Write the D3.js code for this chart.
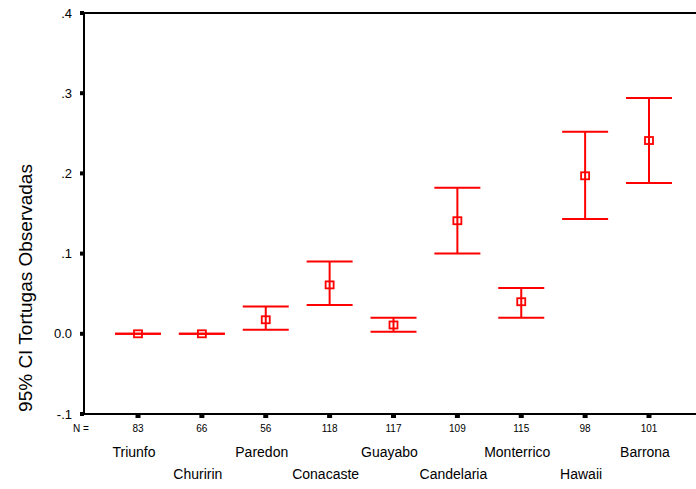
<!DOCTYPE html>
<html>
<head>
<meta charset="utf-8">
<script src="https://cdn.jsdelivr.net/npm/d3@7"></script>
<style>
  html, body { margin: 0; padding: 0; background: #fff; }
  svg { display: block; font-family: "Liberation Sans", Arial, sans-serif; }
</style>
</head>
<body>
<svg id="chart" width="696" height="489"></svg>
<script>
// Sites and sample sizes
const sites = ["Triunfo", "Churirin", "Paredon", "Conacaste", "Guayabo", "Candelaria", "Monterrico", "Hawaii", "Barrona"];
const nValues = [83, 66, 56, 118, 117, 109, 115, 98, 101];
// Mean and 95% confidence limits of observed turtles
const means = [0.000, 0.000, 0.0175, 0.061, 0.011, 0.141, 0.040, 0.197, 0.241];
const lower = [0.000, 0.000, 0.005, 0.036, 0.0025, 0.100, 0.020, 0.143, 0.188];
const upper = [0.000, 0.000, 0.034, 0.090, 0.020, 0.182, 0.057, 0.252, 0.294];
const yTicks = [-0.1, 0.0, 0.1, 0.2, 0.3, 0.4];
const yTickLabels = ["-.1", "0.0", ".1", ".2", ".3", ".4"];

const svg = d3.select("#chart");
const plotLeft = 84, plotTop = 13, plotBottom = 414, plotRight = 703;

const x = d3.scalePoint().domain(sites).range([138, 649]);
const y = d3.scaleLinear().domain([-0.1, 0.4]).range([plotBottom, plotTop]);

const red = "#ff0000";

// Frame: left axis, top and bottom lines
svg.append("line").attr("x1", plotLeft).attr("x2", plotLeft).attr("y1", plotTop).attr("y2", plotBottom)
  .attr("stroke", "#000").attr("stroke-width", 2);
svg.append("line").attr("x1", plotLeft - 1).attr("x2", plotRight).attr("y1", plotBottom).attr("y2", plotBottom)
  .attr("stroke", "#000").attr("stroke-width", 2);
svg.append("line").attr("x1", plotLeft - 1).attr("x2", plotRight).attr("y1", plotTop).attr("y2", plotTop)
  .attr("stroke", "#000").attr("stroke-width", 2);

// Y ticks (small squares) and labels
const yg = svg.append("g");
yg.selectAll("rect").data(yTicks).join("rect")
  .attr("x", plotLeft - 4).attr("y", d => y(d) - 2).attr("width", 4).attr("height", 4)
  .attr("fill", "#000");
yg.selectAll("text").data(yTicks).join("text")
  .attr("x", 72).attr("y", d => y(d) + 4.5)
  .attr("text-anchor", "end").attr("font-size", 13).attr("fill", "#000")
  .text((d, i) => yTickLabels[i]);

// Y axis title
svg.append("text")
  .attr("transform", "translate(32,288) rotate(-90)")
  .attr("text-anchor", "middle").attr("font-size", 19).attr("fill", "#000")
  .text("95% CI Tortugas Observadas");

// X ticks (small squares)
svg.append("g").selectAll("rect").data(sites).join("rect")
  .attr("x", d => x(d) - 2.5).attr("y", plotBottom).attr("width", 5).attr("height", 4)
  .attr("fill", "#000");

// N counts
svg.append("text").attr("x", 81).attr("y", 432).attr("text-anchor", "middle")
  .attr("font-size", 10).text("N =");
svg.append("g").selectAll("text").data(sites).join("text")
  .attr("x", d => x(d)).attr("y", 432).attr("text-anchor", "middle")
  .attr("font-size", 10).text((d, i) => nValues[i]);

// Site names in two staggered rows
svg.append("g").selectAll("text").data(sites).join("text")
  .attr("x", d => x(d) - 4).attr("y", (d, i) => i % 2 === 0 ? 457 : 479)
  .attr("text-anchor", "middle").attr("font-size", 14).text(d => d);

// Error bars
const capHalf = 23;
const bars = svg.append("g").selectAll("g").data(sites).join("g");
bars.append("line")
  .attr("x1", d => x(d)).attr("x2", d => x(d))
  .attr("y1", (d, i) => y(upper[i])).attr("y2", (d, i) => y(lower[i]))
  .attr("stroke", red).attr("stroke-width", 2);
bars.append("line")
  .attr("x1", d => x(d) - capHalf).attr("x2", d => x(d) + capHalf)
  .attr("y1", (d, i) => y(upper[i])).attr("y2", (d, i) => y(upper[i]))
  .attr("stroke", red).attr("stroke-width", 2);
bars.append("line")
  .attr("x1", d => x(d) - capHalf).attr("x2", d => x(d) + capHalf)
  .attr("y1", (d, i) => y(lower[i])).attr("y2", (d, i) => y(lower[i]))
  .attr("stroke", red).attr("stroke-width", 2);
bars.append("rect")
  .attr("x", d => x(d) - 4).attr("y", (d, i) => y(means[i]) - 3.5)
  .attr("width", 8).attr("height", 7)
  .attr("fill", "none").attr("stroke", red).attr("stroke-width", 1.8);
</script>
</body>
</html>
